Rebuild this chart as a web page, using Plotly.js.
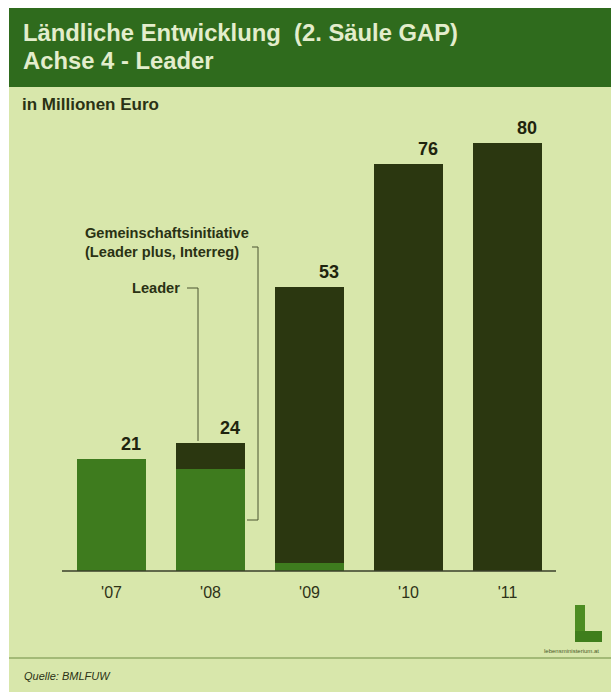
<!DOCTYPE html>
<html>
<head>
<meta charset="utf-8">
<script src="https://cdn.plot.ly/plotly-3.0.1.min.js"></script>
<style>
html,body{margin:0;padding:0;background:#ffffff;}
#chart{width:611px;height:692px;}
</style>
</head>
<body>
<div id="chart"></div>
<script>
// ---- data ----
const years = ["'07", "'08", "'09", "'10", "'11"];
const gemeinschaft = [21, 19, 1.5, 0, 0];   // Gemeinschaftsinitiative (Leader plus, Interreg)
const leader = [0, 5, 51.5, 76, 80];        // Leader
const totals = years.map((_, i) => gemeinschaft[i] + leader[i]);

// ---- layout helpers (pixel -> paper) ----
const W = 611, H = 692;
const L = 62, R = 557, T = 116, B = 571;
const px = p => (p - L) / (R - L);
const py = q => (B - q) / (B - T);

const fontFam = '"Liberation Sans", Arial, sans-serif';
const bg = '#d8e7ab';
const band = '#2f6b1d';
const green = '#3e7b1e';
const dark = '#2b3710';
const ink = '#2a3214';

const traces = [
  {type:'bar', x: years, y: gemeinschaft, name:'Gemeinschaftsinitiative',
   marker:{color: green}, hoverinfo:'skip'},
  {type:'bar', x: years, y: leader, name:'Leader',
   marker:{color: dark}, hoverinfo:'skip'}
];

const shapes = [
  {type:'rect', xref:'paper', yref:'paper', x0:px(0), x1:px(W), y0:py(0), y1:py(8), fillcolor:'#ffffff', line:{width:0}, layer:'below'},
  {type:'rect', xref:'paper', yref:'paper', x0:px(0), x1:px(9), y0:py(0), y1:py(H), fillcolor:'#ffffff', line:{width:0}, layer:'below'},
  {type:'rect', xref:'paper', yref:'paper', x0:px(9), x1:px(W), y0:py(8), y1:py(87), fillcolor: band, line:{width:0}, layer:'below'},
  {type:'line', xref:'paper', yref:'paper', x0:px(9), x1:px(W), y0:py(658), y1:py(658), line:{color:'#6f8e45', width:1.2}},
  {type:'line', xref:'paper', yref:'paper', x0:px(62), x1:px(556), y0:0, y1:0, line:{color:'#3a3f2a', width:1.5}},
  {type:'path', xref:'paper', yref:'paper',
   path:`M ${px(252)} ${py(247)} L ${px(258)} ${py(247)} L ${px(258)} ${py(520)} L ${px(247)} ${py(520)}`,
   line:{color:'#4a5530', width:1}},
  {type:'path', xref:'paper', yref:'paper',
   path:`M ${px(187)} ${py(288)} L ${px(198)} ${py(288)} L ${px(198)} ${py(441)}`,
   line:{color:'#4a5530', width:1}},
  {type:'rect', xref:'paper', yref:'paper', x0:px(575), x1:px(585), y0:py(642), y1:py(605), fillcolor:'#4d8d22', line:{width:0}},
  {type:'rect', xref:'paper', yref:'paper', x0:px(575), x1:px(602), y0:py(642), y1:py(631), fillcolor:'#3f7e1c', line:{width:0}}
];

const annotations = [
  {xref:'paper', yref:'paper', x:px(21), y:py(33), xanchor:'left', yanchor:'middle', showarrow:false,
   text:'<b>Ländliche Entwicklung  (2. Säule GAP)</b>', font:{family:fontFam, size:23.8, color:'#e3edcc'}},
  {xref:'paper', yref:'paper', x:px(21), y:py(60), xanchor:'left', yanchor:'middle', showarrow:false,
   text:'<b>Achse 4 - Leader</b>', font:{family:fontFam, size:23.8, color:'#e3edcc'}},
  {xref:'paper', yref:'paper', x:px(20), y:py(104), xanchor:'left', yanchor:'middle', showarrow:false,
   text:'<b>in Millionen Euro</b>', font:{family:fontFam, size:17, color:ink}},
  {xref:'paper', yref:'paper', x:px(251), y:py(242), xanchor:'right', yanchor:'middle', align:'left', showarrow:false,
   text:'<b>Gemeinschaftsinitiative<br>(Leader plus, Interreg)</b>', font:{family:fontFam, size:14.6, color:ink}},
  {xref:'paper', yref:'paper', x:px(182), y:py(288), xanchor:'right', yanchor:'middle', showarrow:false,
   text:'<b>Leader</b>', font:{family:fontFam, size:14.6, color:ink}},
  {xref:'paper', yref:'paper', x:px(22), y:py(676), xanchor:'left', yanchor:'middle', showarrow:false,
   text:'<i>Quelle: BMLFUW</i>', font:{family:fontFam, size:11, color:ink}},
  {xref:'paper', yref:'paper', x:px(601), y:py(651), xanchor:'right', yanchor:'middle', showarrow:false,
   text:'lebensministerium.at', font:{family:fontFam, size:6, color:'#4a5a2a'}}
];

years.forEach((yr, i) => {
  annotations.push({xref:'x', yref:'y', x: yr, y: totals[i], xshift: 19, yshift: 3,
    xanchor:'center', yanchor:'bottom', showarrow:false, text: '<b>' + totals[i] + '</b>',
    font:{family:fontFam, size:18, color:'#1f240e'}});
});

const layout = {
  width: W, height: H,
  margin:{l:L, r:W - R, t:T, b:H - B, pad:0},
  paper_bgcolor: bg, plot_bgcolor: 'rgba(0,0,0,0)',
  barmode:'stack', bargap:0.31,
  showlegend:false,
  xaxis:{type:'category', range:[-0.5, 4.5], showline:false, showgrid:false, zeroline:false,
    ticks:'', tickfont:{family:fontFam, size:16, color:'#2e3318'}, ticklabelstandoff:10, fixedrange:true},
  yaxis:{range:[0, (B - T) / 5.35], visible:false, showgrid:false, zeroline:false, fixedrange:true},
  shapes, annotations,
  font:{family:fontFam}
};

Plotly.newPlot('chart', traces, layout, {displayModeBar:false, staticPlot:true});
</script>
</body>
</html>
